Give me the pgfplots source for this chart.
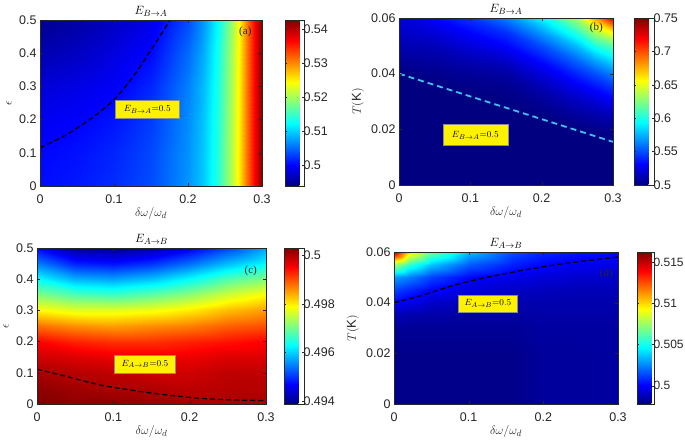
\documentclass[border=0pt]{standalone}
\usepackage{fontspec}
\setmainfont{Liberation Sans}
\newfontfamily\serifpanel{Liberation Serif}
\usepackage{pgfplots}
\pgfplotsset{compat=1.18}

\definecolor{axgray}{rgb}{0.15,0.15,0.15}

\pgfplotsset{
  mapstyle/.style={
    scale only axis,
    colormap/jet,
    enlargelimits=false,
    axis on top,
    scaled ticks=false,
    xmin=0, xmax=0.3,
    xtick={0,0.1,0.2,0.3},
    xticklabels={0,0.1,0.2,0.3},
    tick align=inside,
    major tick length=3pt,
    axis line style={axgray},
    tick style={axgray},
    ticklabel style={font=\fontsize{12.5}{14}\selectfont, text=axgray},
    xticklabel style={yshift=-5pt},
    ylabel style={yshift=0.5pt},
    label style={font=\fontsize{13}{15}\selectfont, text=axgray},
    title style={font=\fontsize{13}{15}\selectfont, yshift=-6pt},
    xlabel={$\delta\omega/\omega_d$},
    xlabel style={at={(axis description cs:0.5,0)}, anchor=north, yshift=-18pt},
    colorbar,
    colorbar style={
      at={(parent axis.north east)}, anchor=north west,
      tick align=inside, major tick length=2pt,
      axis line style={axgray}, tick style={axgray},
      yticklabel style={font=\fontsize{12.5}{14}\selectfont, text=axgray, xshift=-4pt},
    },
  },
  map/.style={surf, shader=interp, mesh/ordering=y varies, point meta=\thisrow{z}},
  cline/.style={black, line width=1.3pt, dash pattern=on 5pt off 3pt, smooth},
}
\tikzset{
  eqbox/.style={fill=yellow, draw=black!45, line width=0.4pt, inner sep=1pt,
    font=\fontsize{9.5}{11}\selectfont},
  panel/.style={font=\serifpanel\fontsize{11}{13}\selectfont, text=axgray},
}

\begin{document}
\begin{tikzpicture}
\useasboundingbox (0,0) rectangle (685pt,441pt);

% ---------------- (a)
\begin{axis}[mapstyle,
  at={(40pt,255pt)}, anchor=south west, width=222pt, height=166pt,
  ymin=0, ymax=0.5,
  ytick={0,0.1,0.2,0.3,0.4,0.5}, yticklabels={0,0.1,0.2,0.3,0.4,0.5},
  ylabel={$\epsilon$},
  title={$E_{B\rightarrow A}$},
  point meta min=0.4938, point meta max=0.5426,
  colorbar style={xshift=14.5pt, width=19pt,
    ytick={0.5,0.51,0.52,0.53,0.54}, yticklabels={0.5,0.51,0.52,0.53,0.54}},
]
\addplot[map, mesh/rows=6, mesh/cols=12] table[x=x, y=y] {
x y z
0 0 0.5004
0 0.1 0.5001
0 0.2 0.4993
0 0.3 0.4980
0 0.4 0.4962
0 0.5 0.4945
0.05 0 0.5010
0.05 0.1 0.5006
0.05 0.2 0.4998
0.05 0.3 0.4986
0.05 0.4 0.4970
0.05 0.5 0.4955
0.1 0 0.5020
0.1 0.1 0.5016
0.1 0.2 0.5008
0.1 0.3 0.4996
0.1 0.4 0.4983
0.1 0.5 0.4970
0.15 0 0.5035
0.15 0.1 0.5033
0.15 0.2 0.5027
0.15 0.3 0.5016
0.15 0.4 0.5002
0.15 0.5 0.4988
0.2 0 0.5070
0.2 0.1 0.5069
0.2 0.2 0.5066
0.2 0.3 0.5060
0.2 0.4 0.5050
0.2 0.5 0.5035
0.22 0 0.5095
0.22 0.1 0.5094
0.22 0.2 0.5092
0.22 0.3 0.5088
0.22 0.4 0.5080
0.22 0.5 0.5070
0.24 0 0.5140
0.24 0.1 0.5139
0.24 0.2 0.5137
0.24 0.3 0.5134
0.24 0.4 0.5130
0.24 0.5 0.5122
0.26 0 0.5210
0.26 0.1 0.5209
0.26 0.2 0.5207
0.26 0.3 0.5205
0.26 0.4 0.5202
0.26 0.5 0.5197
0.27 0 0.5258
0.27 0.1 0.5257
0.27 0.2 0.5256
0.27 0.3 0.5255
0.27 0.4 0.5253
0.27 0.5 0.5250
0.28 0 0.5312
0.28 0.1 0.5312
0.28 0.2 0.5311
0.28 0.3 0.5310
0.28 0.4 0.5309
0.28 0.5 0.5307
0.29 0 0.5370
0.29 0.1 0.5370
0.29 0.2 0.5370
0.29 0.3 0.5369
0.29 0.4 0.5369
0.29 0.5 0.5368
0.3 0 0.5425
0.3 0.1 0.5425
0.3 0.2 0.5425
0.3 0.3 0.5425
0.3 0.4 0.5425
0.3 0.5 0.5425
};
\addplot[cline] coordinates {
  (0,0.115) (0.036,0.155) (0.07,0.205) (0.1,0.26)
  (0.126,0.33) (0.15,0.41) (0.176,0.5)
};
\node[eqbox, minimum width=64pt, minimum height=18pt] at (axis cs:0.145,0.231) {$E_{B\rightarrow A}{=}0.5$};
\node[panel] at (axis cs:0.2775,0.463) {(a)};
\end{axis}

% ---------------- (b)
\begin{axis}[mapstyle,
  at={(399pt,256pt)}, anchor=south west, width=214pt, height=167pt,
  ymin=0, ymax=0.06,
  ytick={0,0.02,0.04,0.06}, yticklabels={0,0.02,0.04,0.06},
  ylabel={$T(\mathrm{K})$},
  title={$E_{B\rightarrow A}$},
  point meta min=0.5, point meta max=0.75,
  colorbar style={xshift=12.5pt, width=20pt,
    ytick={0.5,0.55,0.6,0.65,0.7,0.75}, yticklabels={0.5,0.55,0.6,0.65,0.7,0.75}},
]
\addplot[map, mesh/rows=12, mesh/cols=8] table[x=x, y=y] {
x y z
0 0 0.5
0 0.01 0.5
0 0.015 0.5
0 0.02 0.5
0 0.025 0.5
0 0.03 0.5
0 0.035 0.5
0 0.04 0.5
0 0.045 0.506
0 0.05 0.512
0 0.055 0.517
0 0.06 0.522
0.05 0 0.5
0.05 0.01 0.5
0.05 0.015 0.5
0.05 0.02 0.5
0.05 0.025 0.5
0.05 0.03 0.5
0.05 0.035 0.5
0.05 0.04 0.503
0.05 0.045 0.508
0.05 0.05 0.514
0.05 0.055 0.522
0.05 0.06 0.532
0.1 0 0.5
0.1 0.01 0.5
0.1 0.015 0.5
0.1 0.02 0.5
0.1 0.025 0.5
0.1 0.03 0.5
0.1 0.035 0.502
0.1 0.04 0.506
0.1 0.045 0.513
0.1 0.05 0.522
0.1 0.055 0.532
0.1 0.06 0.544
0.15 0 0.5
0.15 0.01 0.5
0.15 0.015 0.5
0.15 0.02 0.5
0.15 0.025 0.5
0.15 0.03 0.501
0.15 0.035 0.503
0.15 0.04 0.508
0.15 0.045 0.518
0.15 0.05 0.531
0.15 0.055 0.543
0.15 0.06 0.5625
0.2 0 0.5
0.2 0.01 0.5
0.2 0.015 0.5
0.2 0.02 0.5
0.2 0.025 0.501
0.2 0.03 0.505
0.2 0.035 0.512
0.2 0.04 0.522
0.2 0.045 0.535
0.2 0.05 0.55
0.2 0.055 0.57
0.2 0.06 0.593
0.25 0 0.5
0.25 0.01 0.5
0.25 0.015 0.5
0.25 0.02 0.5005
0.25 0.025 0.507
0.25 0.03 0.515
0.25 0.035 0.526
0.25 0.04 0.54
0.25 0.045 0.557
0.25 0.05 0.578
0.25 0.055 0.605
0.25 0.06 0.635
0.275 0 0.5
0.275 0.01 0.5
0.275 0.015 0.5
0.275 0.02 0.503
0.275 0.025 0.51
0.275 0.03 0.52
0.275 0.035 0.534
0.275 0.04 0.55
0.275 0.045 0.572
0.275 0.05 0.6
0.275 0.055 0.635
0.275 0.06 0.68
0.3 0 0.5
0.3 0.01 0.5
0.3 0.015 0.5
0.3 0.02 0.505
0.3 0.025 0.515
0.3 0.03 0.528
0.3 0.035 0.543
0.3 0.04 0.5625
0.3 0.045 0.587
0.3 0.05 0.615
0.3 0.055 0.66
0.3 0.06 0.725
};
\addplot[cline, cyan!75!white, line width=1.8pt, dash pattern=on 6pt off 4pt] coordinates {
  (0,0.04) (0.3,0.0155)
};
\node[eqbox, minimum width=65pt, minimum height=21pt] at (axis cs:0.107,0.0179) {$E_{B\rightarrow A}{=}0.5$};
\node[panel] at (axis cs:0.2766,0.0564) {(b)};
\end{axis}

% ---------------- (c)
\begin{axis}[mapstyle,
  at={(37pt,37pt)}, anchor=south west, width=229pt, height=156pt,
  ymin=0, ymax=0.5,
  ytick={0,0.1,0.2,0.3,0.4,0.5}, yticklabels={0,0.1,0.2,0.3,0.4,0.5},
  ylabel={$\epsilon$},
  title={$E_{A\rightarrow B}$},
  point meta min=0.49388, point meta max=0.50029,
  colorbar style={xshift=9.5pt, width=20pt,
    ytick={0.494,0.496,0.498,0.5}, yticklabels={0.494,0.496,0.498,0.5}},
]
\addplot[map, mesh/rows=11, mesh/cols=7] table[x=x, y=y] {
x y z
0 0 0.5003
0 0.05 0.5002
0 0.1 0.50004
0 0.15 0.4998
0 0.2 0.4995
0 0.25 0.4988
0 0.3 0.4979
0 0.35 0.4971
0 0.4 0.4963
0 0.45 0.4955
0 0.5 0.4947
0.05 0 0.5002
0.05 0.05 0.50008
0.05 0.1 0.49995
0.05 0.15 0.4997
0.05 0.2 0.4993
0.05 0.25 0.4986
0.05 0.3 0.4977
0.05 0.35 0.4968
0.05 0.4 0.4958
0.05 0.45 0.4949
0.05 0.5 0.4941
0.1 0 0.5002
0.1 0.05 0.50001
0.1 0.1 0.4999
0.1 0.15 0.4996
0.1 0.2 0.4992
0.1 0.25 0.4985
0.1 0.3 0.4977
0.1 0.35 0.4967
0.1 0.4 0.4957
0.1 0.45 0.4948
0.1 0.5 0.4940
0.15 0 0.50015
0.15 0.05 0.49998
0.15 0.1 0.4998
0.15 0.15 0.4996
0.15 0.2 0.4992
0.15 0.25 0.4986
0.15 0.3 0.4978
0.15 0.35 0.4969
0.15 0.4 0.4959
0.15 0.45 0.4950
0.15 0.5 0.4942
0.2 0 0.50006
0.2 0.05 0.4999
0.2 0.1 0.4998
0.2 0.15 0.4996
0.2 0.2 0.4993
0.2 0.25 0.4987
0.2 0.3 0.4980
0.2 0.35 0.4972
0.2 0.4 0.4963
0.2 0.45 0.4954
0.2 0.5 0.4946
0.25 0 0.50003
0.25 0.05 0.49995
0.25 0.1 0.4999
0.25 0.15 0.4997
0.25 0.2 0.4994
0.25 0.25 0.4989
0.25 0.3 0.4983
0.25 0.35 0.4976
0.25 0.4 0.4968
0.25 0.45 0.4959
0.25 0.5 0.4951
0.3 0 0.50002
0.3 0.05 0.49996
0.3 0.1 0.4999
0.3 0.15 0.4997
0.3 0.2 0.4995
0.3 0.25 0.4990
0.3 0.3 0.4985
0.3 0.35 0.4979
0.3 0.4 0.4971
0.3 0.45 0.4963
0.3 0.5 0.4957
};
\addplot[cline] coordinates {
  (0,0.112) (0.039,0.088) (0.083,0.061) (0.127,0.043)
  (0.170,0.029) (0.214,0.018) (0.258,0.013) (0.3,0.011)
};
\node[eqbox, minimum width=61pt, minimum height=18pt] at (axis cs:0.1415,0.128) {$E_{A\rightarrow B}{=}0.5$};
\node[panel] at (axis cs:0.28,0.428) {(c)};
\end{axis}

% ---------------- (d)
\begin{axis}[mapstyle,
  at={(394pt,37pt)}, anchor=south west, width=224pt, height=152pt,
  ymin=0, ymax=0.06,
  ytick={0,0.02,0.04,0.06}, yticklabels={0,0.02,0.04,0.06},
  ylabel={$T(\mathrm{K})$},
  title={$E_{A\rightarrow B}$},
  point meta min=0.4978, point meta max=0.5162,
  colorbar style={xshift=10.5pt, width=17pt,
    ytick={0.5,0.505,0.51,0.515}, yticklabels={0.5,0.505,0.51,0.515},
    yticklabel style={font=\fontsize{12}{14}\selectfont}},
]
\addplot[map, mesh/rows=10, mesh/cols=8] table[x=x, y=y] {
x y z
0 0 0.4980
0 0.01 0.4980
0 0.02 0.4980
0 0.03 0.4982
0 0.035 0.4988
0 0.04 0.5
0 0.045 0.5013
0 0.05 0.5030
0 0.055 0.5075
0 0.06 0.5148
0.02 0 0.4980
0.02 0.01 0.4980
0.02 0.02 0.4980
0.02 0.03 0.4982
0.02 0.035 0.4986
0.02 0.04 0.4996
0.02 0.045 0.5008
0.02 0.05 0.5024
0.02 0.055 0.5055
0.02 0.06 0.5100
0.05 0 0.4980
0.05 0.01 0.4980
0.05 0.02 0.4980
0.05 0.03 0.4982
0.05 0.035 0.4985
0.05 0.04 0.4991
0.05 0.045 0.5001
0.05 0.05 0.5013
0.05 0.055 0.5036
0.05 0.06 0.5068
0.1 0 0.4980
0.1 0.01 0.4980
0.1 0.02 0.4980
0.1 0.03 0.4982
0.1 0.035 0.4984
0.1 0.04 0.4988
0.1 0.045 0.4994
0.1 0.05 0.5002
0.1 0.055 0.5017
0.1 0.06 0.5035
0.16 0 0.4980
0.16 0.01 0.4980
0.16 0.02 0.4980
0.16 0.03 0.4982
0.16 0.035 0.4984
0.16 0.04 0.4986
0.16 0.045 0.4990
0.16 0.05 0.4997
0.16 0.055 0.5006
0.16 0.06 0.5015
0.2 0 0.4983
0.2 0.01 0.4983
0.2 0.02 0.4983
0.2 0.03 0.4984
0.2 0.035 0.4985
0.2 0.04 0.4986
0.2 0.045 0.4989
0.2 0.05 0.4994
0.2 0.055 0.5001
0.2 0.06 0.5008
0.25 0 0.4983
0.25 0.01 0.4983
0.25 0.02 0.4983
0.25 0.03 0.4984
0.25 0.035 0.4985
0.25 0.04 0.4986
0.25 0.045 0.4988
0.25 0.05 0.4992
0.25 0.055 0.4998
0.25 0.06 0.5004
0.3 0 0.4984
0.3 0.01 0.4984
0.3 0.02 0.4984
0.3 0.03 0.4984
0.3 0.035 0.4985
0.3 0.04 0.4986
0.3 0.045 0.4988
0.3 0.05 0.4991
0.3 0.055 0.4997
0.3 0.06 0.5002
};
\addplot[cline] coordinates {
  (0,0.04) (0.039,0.043) (0.084,0.0472) (0.128,0.0502)
  (0.173,0.0528) (0.2176,0.055) (0.262,0.0567) (0.3,0.058)
};
\node[eqbox, minimum width=59pt, minimum height=17pt] at (axis cs:0.1257,0.0396) {$E_{A\rightarrow B}{=}0.5$};
\node[panel] at (axis cs:0.2844,0.0515) {(d)};
\end{axis}
\end{tikzpicture}
\end{document}
